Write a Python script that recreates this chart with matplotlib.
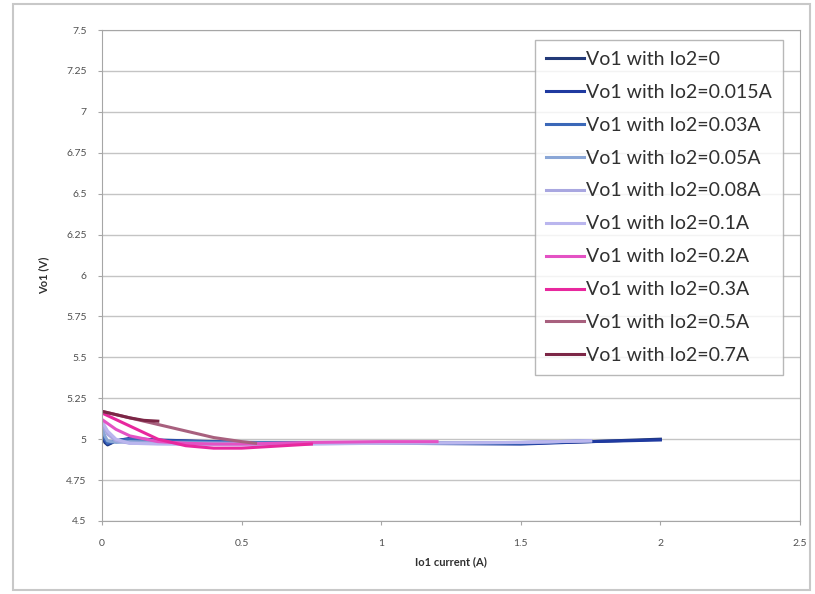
import matplotlib
matplotlib.use("Agg")
import matplotlib.pyplot as plt
from matplotlib.patches import Rectangle

plt.rcParams['font.family'] = ['Lato', 'DejaVu Sans']

# Io1 (A) / Vo1 (V) readings for each Io2 setting
io2_labels = ['0', '0.015A', '0.03A', '0.05A', '0.08A', '0.1A', '0.2A', '0.3A', '0.5A', '0.7A']

io1_io2_0 = [0, 0.01, 0.02, 0.05, 0.1, 0.2, 0.5, 1.0, 1.5, 1.75, 2.0]
vo1_io2_0 = [5.04, 4.98, 4.965, 4.99, 5.0, 4.99, 4.98, 4.98, 4.975, 4.985, 5.0]

io1_io2_015 = [0, 0.01, 0.02, 0.05, 0.1, 0.2, 0.5, 1.0, 1.5, 1.75, 2.0]
vo1_io2_015 = [5.06, 4.99, 4.97, 4.99, 5.005, 4.995, 4.98, 4.975, 4.97, 4.985, 4.995]

io1_io2_03 = [0, 0.01, 0.02, 0.05, 0.1, 0.2, 0.5, 1.0, 1.5, 1.75]
vo1_io2_03 = [5.07, 5.0, 4.975, 4.99, 5.0, 4.99, 4.98, 4.975, 4.975, 4.99]

io1_io2_05 = [0, 0.01, 0.02, 0.05, 0.1, 0.2, 0.5, 1.0, 1.5, 1.75]
vo1_io2_05 = [5.08, 5.02, 4.99, 4.98, 4.985, 4.98, 4.975, 4.975, 4.98, 4.99]

io1_io2_08 = [0, 0.02, 0.05, 0.1, 0.2, 0.5, 1.0, 1.5, 1.75]
vo1_io2_08 = [5.1, 5.03, 4.99, 4.975, 4.975, 4.97, 4.975, 4.98, 4.99]

io1_io2_1 = [0, 0.02, 0.05, 0.1, 0.2, 0.5, 1.0, 1.5, 1.75]
vo1_io2_1 = [5.11, 5.05, 5.0, 4.975, 4.97, 4.965, 4.975, 4.98, 4.99]

io1_io2_2 = [0, 0.05, 0.1, 0.2, 0.3, 0.4, 0.5, 0.75, 1.0, 1.2]
vo1_io2_2 = [5.12, 5.06, 5.02, 4.985, 4.975, 4.97, 4.97, 4.98, 4.985, 4.985]

io1_io2_3 = [0, 0.1, 0.2, 0.3, 0.4, 0.5, 0.6, 0.75]
vo1_io2_3 = [5.16, 5.08, 5.0, 4.96, 4.945, 4.945, 4.955, 4.97]

io1_io2_5 = [0, 0.1, 0.2, 0.3, 0.4, 0.5, 0.55]
vo1_io2_5 = [5.17, 5.13, 5.09, 5.05, 5.01, 4.985, 4.975]

io1_io2_7 = [0, 0.05, 0.1, 0.15, 0.2]
vo1_io2_7 = [5.17, 5.15, 5.13, 5.115, 5.11]

series_x = [io1_io2_0, io1_io2_015, io1_io2_03, io1_io2_05, io1_io2_08,
            io1_io2_1, io1_io2_2, io1_io2_3, io1_io2_5, io1_io2_7]
series_y = [vo1_io2_0, vo1_io2_015, vo1_io2_03, vo1_io2_05, vo1_io2_08,
            vo1_io2_1, vo1_io2_2, vo1_io2_3, vo1_io2_5, vo1_io2_7]

colors = ['#233a78', '#1f3aa0', '#3b68b8', '#8aa6d6', '#a9a7e0',
          '#bab6ee', '#e452c4', '#e8289e', '#a8607e', '#7c2646']

fig = plt.figure(figsize=(8.15, 5.94), dpi=100)
fig.patches.append(Rectangle((13 / 815, 4 / 594), 797 / 815, 586 / 594,
                             transform=fig.transFigure, fill=False,
                             edgecolor='#c8c8c8', lw=1.5))
ax = fig.add_axes([102 / 815, 1 - 521 / 594, 698 / 815, 491 / 594])

for xs, ys, c, lab in zip(series_x, series_y, colors, io2_labels):
    ax.plot(xs, ys, color=c, lw=2.2, label=f'Vo1 with Io2={lab}')

ax.set_xlim(0, 2.5)
ax.set_ylim(4.5, 7.5)
ax.set_xticks([0, 0.5, 1, 1.5, 2, 2.5])
ax.set_xticklabels(['0', '0.5', '1', '1.5', '2', '2.5'])
yt = [4.5, 4.75, 5, 5.25, 5.5, 5.75, 6, 6.25, 6.5, 6.75, 7, 7.25, 7.5]
ax.set_yticks(yt)
ax.set_yticklabels(['4.5', '4.75', '5', '5.25', '5.5', '5.75', '6', '6.25',
                    '6.5', '6.75', '7', '7.25', '7.5'])
ax.yaxis.grid(True, color='#c4c4c4', lw=1)
ax.set_axisbelow(True)
for s in ax.spines.values():
    s.set_color('#a6a6a6')
ax.tick_params(colors='#a6a6a6', labelcolor='#505050', labelsize=7.5, length=3)
ax.tick_params(axis='x', pad=10)
ax.tick_params(axis='y', pad=8)

ax.set_xlabel('Io1 current (A)', fontsize=8, color='#303030', fontweight='bold', labelpad=6)
ax.set_ylabel('Vo1 (V)', fontsize=8, color='#303030', fontweight='bold', labelpad=12)

leg = fig.legend(loc='upper right', bbox_to_anchor=(783 / 815, 1 - 40 / 594),
                 bbox_transform=fig.transFigure, borderaxespad=0,
                 fontsize=14, labelspacing=0.82, handlelength=2.0,
                 handletextpad=0.1, fancybox=False, frameon=True,
                 borderpad=0.55)
leg.get_frame().set_edgecolor('#a6a6a6')
leg.get_frame().set_linewidth(1)
for t in leg.get_texts():
    t.set_color('#303030')

fig.savefig('out.png', dpi=100)
